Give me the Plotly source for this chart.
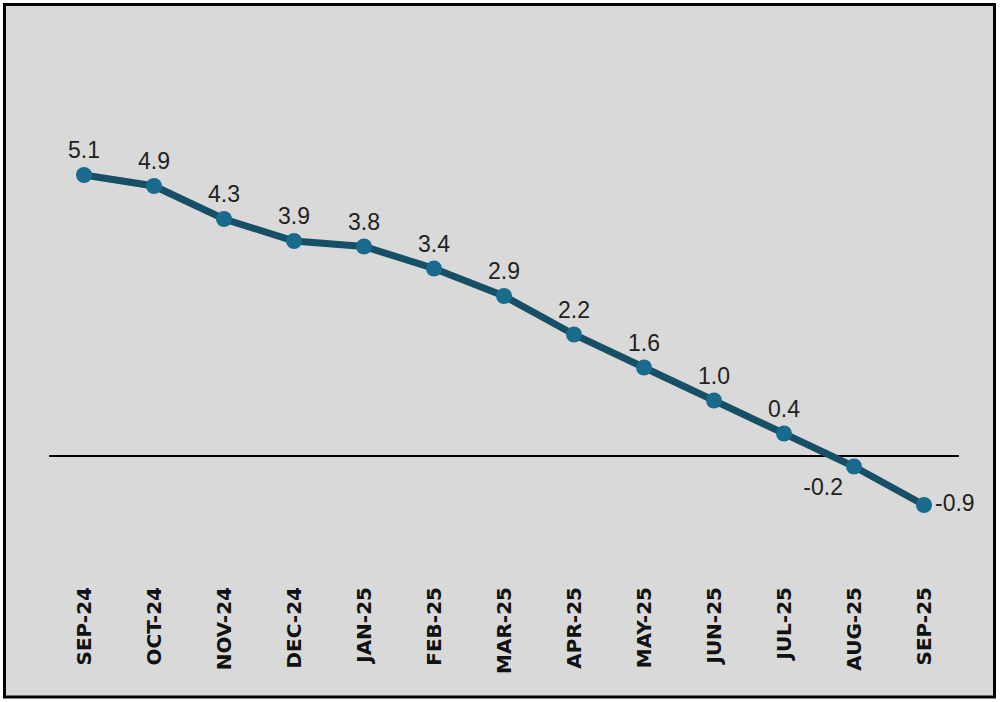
import plotly.graph_objects as go

months = ["SEP-24", "OCT-24", "NOV-24", "DEC-24", "JAN-25", "FEB-25", "MAR-25",
          "APR-25", "MAY-25", "JUN-25", "JUL-25", "AUG-25", "SEP-25"]
values = [5.1, 4.9, 4.3, 3.9, 3.8, 3.4, 2.9, 2.2, 1.6, 1.0, 0.4, -0.2, -0.9]
label_pos = ["top center"] * 11 + ["bottom left", "middle right"]

W, H = 1002, 702
L, R, T, B = 49, 43, 40, 120
pw, ph = W - L - R, H - T - B

def px_x(p):
    return (p - L) / pw

def px_y(p):
    return (H - B - p) / ph

fig = go.Figure()
fig.add_trace(go.Scatter(
    x=months, y=values,
    mode="lines+markers+text",
    line=dict(color="#174f67", width=7),
    marker=dict(color="#1a6a8e", size=16),
    text=[f"{v:.1f}" for v in values],
    textposition=label_pos,
    textfont=dict(family="Liberation Sans Narrow, Arial Narrow, sans-serif", size=23, color="#222222"),
    cliponaxis=False,
    hoverinfo="x+y",
))

fig.add_shape(type="rect", xref="paper", yref="paper",
              x0=px_x(4.5), x1=px_x(994.5), y0=px_y(697), y1=px_y(4.5),
              line=dict(color="black", width=3), fillcolor="#d9d9d9", layer="below")

fig.update_layout(
    width=W, height=H,
    margin=dict(l=L, r=R, t=T, b=B, pad=0),
    paper_bgcolor="white",
    plot_bgcolor="rgba(0,0,0,0)",
    showlegend=False,
    xaxis=dict(
        type="category", range=[-0.5, 12.5],
        showgrid=False, zeroline=False, showline=False,
        tickangle=-90, ticks="",
        tickfont=dict(family="DejaVu Sans, sans-serif", size=20, color="#111111", weight="bold"),
    ),
    yaxis=dict(
        range=[-0.9 - (582 - 505) / 55, 5.1 + (175 - 40) / 55],
        showgrid=False, showticklabels=False, ticks="",
        zeroline=True, zerolinecolor="black", zerolinewidth=1.5,
        showline=False,
    ),
)

fig.write_html("out.html", config={"displayModeBar": False},
               post_script="document.body.style.margin='0';")
